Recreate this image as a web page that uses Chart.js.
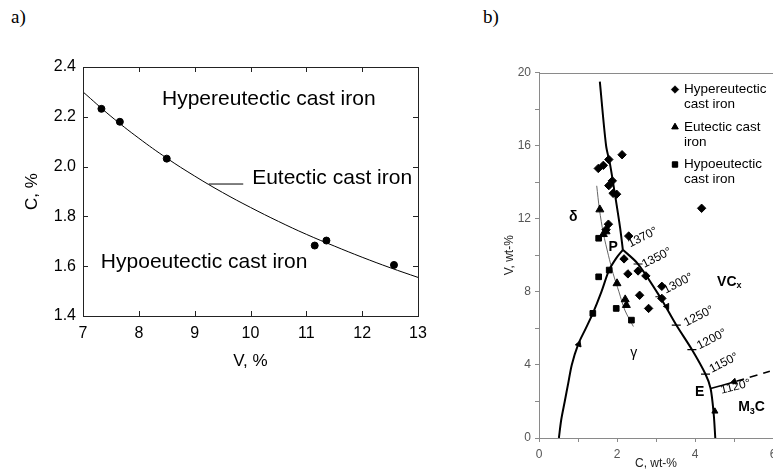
<!DOCTYPE html>
<html>
<head>
<meta charset="utf-8">
<script src="https://cdn.jsdelivr.net/npm/chart.js@4.4.1/dist/chart.umd.min.js"></script>
<style>
  body { margin: 0; background: #fff; }
  #page { position: relative; width: 773px; height: 475px; overflow: hidden; }
  #boxA { position: absolute; left: 0; top: 0; width: 440px; height: 475px; }
  #boxB { position: absolute; left: 480px; top: 0; width: 293px; height: 475px; }
  .tag { position: absolute; font: 19px "Liberation Serif", serif; color: #000; }
</style>
</head>
<body>
<div id="page">
  <div class="tag" style="left:11px;top:6px">a)</div>
  <div class="tag" style="left:483px;top:6px">b)</div>
  <div id="boxA"><canvas id="chartA"></canvas></div>
  <div id="boxB"><canvas id="chartB"></canvas></div>
</div>
<script>
// ---- panel a) : C vs V
var vCurve = [7, 7.5, 8, 8.5, 9, 9.5, 10, 10.5, 11, 11.5, 12, 12.5, 13];
var cCurve = [2.30, 2.202, 2.114, 2.034, 1.962, 1.896, 1.836, 1.780, 1.728, 1.681, 1.636, 1.594, 1.555];
var vPoints = [7.33, 7.66, 8.5, 11.15, 11.36, 12.57];
var cPoints = [2.232, 2.18, 2.032, 1.683, 1.703, 1.605];

// ---- panel b) : V vs C diagram
var hyperC = [1.52, 1.65, 1.79, 2.13, 1.79, 1.88, 1.90, 1.99, 4.17, 1.78, 1.72, 2.30, 2.18, 2.28, 2.54, 2.74, 3.15, 3.15, 2.58, 2.81];
var hyperV = [14.75, 14.92, 15.24, 15.5, 13.81, 14.07, 13.39, 13.34, 12.57, 11.7, 11.4, 11.05, 9.8, 8.98, 9.14, 8.87, 8.3, 7.64, 7.81, 7.09];
var eutC = [1.56, 1.65, 1.72, 2.0, 2.21, 2.24];
var eutV = [12.5, 11.15, 11.3, 8.46, 7.58, 7.27];
var hypoC = [1.53, 1.53, 1.80, 1.38, 1.98, 2.37];
var hypoV = [10.93, 8.82, 9.19, 6.82, 7.09, 6.45];

var liqC = [1.56, 1.72, 1.82, 1.95, 2.08, 2.15];
var liqV = [19.5, 16, 15, 13.3, 11.5, 10.3];
var leftC = [0.51, 0.57, 0.66, 0.75, 0.84, 1.0, 1.2, 1.38, 1.6, 1.8, 2.0, 2.15];
var leftV = [0, 1, 2, 3, 4, 5.1, 6.0, 6.82, 8.0, 9.2, 9.9, 10.3];
var rightC = [2.15, 2.54, 3.10, 3.52, 3.92, 4.27, 4.40, 4.48, 4.52];
var rightV = [10.3, 9.52, 7.73, 6.18, 4.84, 3.49, 2.71, 1.3, 0];
var eLineC = [4.40, 5.06];
var eLineV = [2.71, 3.1];
var eDashC = [5.06, 5.92];
var eDashV = [3.1, 3.65];
var thinC = [1.48, 1.55, 1.65, 1.78, 1.9, 2.05, 2.2, 2.42];
var thinV = [13.8, 12.5, 11.2, 10.0, 9.0, 8.0, 7.0, 6.1];
var tempC = [2.54, 3.10, 3.52, 3.92, 4.27];
var tempV = [9.52, 7.73, 6.18, 4.84, 3.49];
var tempText = ['1370°', '1350°', '1300°', '1250°', '1200°', '1150°', '1120°'];
var arrowC = [1.02, 3.28, 4.51, 5.0];
var arrowV = [5.13, 7.2, 1.46, 3.08];

function pts(xs, ys) {
  return xs.map(function (x, i) { return { x: x, y: ys[i] }; });
}

// no label overflow padding, so the plot box stays where it is set
function noPadX(h) {
  return function (s) { s.height = h; s.paddingLeft = 0; s.paddingRight = 0; };
}
function noPadY(w) {
  return function (s) { s.width = w; s.paddingTop = 0; s.paddingBottom = 0; };
}

// inward ticks and full frame for panel a)
var frameTicks = {
  id: 'frameTicks',
  afterDatasetsDraw: function (chart) {
    var a = chart.chartArea, ctx = chart.ctx, sx = chart.scales.x, sy = chart.scales.y;
    ctx.save();
    ctx.strokeStyle = '#222';
    ctx.lineWidth = 1;
    ctx.strokeRect(Math.round(a.left) + 0.5, Math.round(a.top) + 0.5, Math.round(a.right - a.left), Math.round(a.bottom - a.top));
    ctx.beginPath();
    sx.ticks.forEach(function (t) {
      var px = Math.round(sx.getPixelForValue(t.value)) + 0.5;
      ctx.moveTo(px, a.bottom); ctx.lineTo(px, a.bottom - 5);
      ctx.moveTo(px, a.top); ctx.lineTo(px, a.top + 5);
    });
    sy.ticks.forEach(function (t) {
      var py = Math.round(sy.getPixelForValue(t.value)) + 0.5;
      ctx.moveTo(a.left, py); ctx.lineTo(a.left + 5, py);
      ctx.moveTo(a.right, py); ctx.lineTo(a.right - 5, py);
    });
    ctx.stroke();
    ctx.restore();
  }
};

var notesA = [
  { v: 8.415, c: 2.269, text: 'Hypereutectic cast iron' },
  { v: 10.03, c: 1.955, text: 'Eutectic cast iron' },
  { v: 7.32, c: 1.618, text: 'Hypoeutectic cast iron' }
];

var labelsA = {
  id: 'labelsA',
  afterDatasetsDraw: function (chart) {
    var ctx = chart.ctx, sx = chart.scales.x, sy = chart.scales.y;
    ctx.save();
    ctx.fillStyle = '#000';
    ctx.font = '21px "Liberation Sans", Arial, sans-serif';
    ctx.textAlign = 'left';
    ctx.textBaseline = 'middle';
    notesA.forEach(function (n) {
      ctx.fillText(n.text, sx.getPixelForValue(n.v), sy.getPixelForValue(n.c));
    });
    // leader line to the curve
    ctx.strokeStyle = '#000';
    ctx.lineWidth = 1;
    ctx.beginPath();
    ctx.moveTo(sx.getPixelForValue(9.25), sy.getPixelForValue(1.93));
    ctx.lineTo(sx.getPixelForValue(9.87), sy.getPixelForValue(1.93));
    ctx.stroke();
    ctx.restore();
  }
};

new Chart(document.getElementById('chartA'), {
  type: 'scatter',
  data: {
    datasets: [{
      data: pts(vCurve, cCurve),
      showLine: true,
      borderColor: '#000',
      borderWidth: 1,
      pointRadius: 0,
      tension: 0.4
    }, {
      data: pts(vPoints, cPoints),
      backgroundColor: '#000',
      borderColor: '#000',
      pointRadius: 3.5
    }]
  },
  options: {
    responsive: true,
    maintainAspectRatio: false,
    animation: false,
    layout: { autoPadding: false, padding: { left: 18, top: 67, right: 22, bottom: 99 } },
    plugins: { legend: { display: false }, tooltip: { enabled: false } },
    scales: {
      x: {
        type: 'linear', min: 7, max: 13,
        afterFit: noPadX(60),
        border: { display: false },
        grid: { drawOnChartArea: false, drawTicks: false },
        ticks: { stepSize: 1, color: '#000', padding: 8, font: { family: '"Liberation Sans", Arial', size: 16 } },
        title: { display: true, text: 'V, %', color: '#000', padding: { top: 4, bottom: 4 }, font: { family: '"Liberation Sans", Arial', size: 17 } }
      },
      y: {
        min: 1.4, max: 2.4,
        afterFit: noPadY(65),
        border: { display: false },
        grid: { drawOnChartArea: false, drawTicks: false },
        ticks: { stepSize: 0.2, color: '#000', padding: 7, font: { family: '"Liberation Sans", Arial', size: 16 },
          callback: function (v) { return v.toFixed(1); } },
        title: { display: true, text: 'C, %', color: '#000', padding: { top: 4, bottom: 4 }, font: { family: '"Liberation Sans", Arial', size: 17 } }
      }
    }
  },
  plugins: [frameTicks, labelsA]
});

// ---- panel b) decorations
var notesB = [
  { c: 0.88, v: 12.1, parts: [['δ', 0]], bold: true },
  { c: 1.90, v: 10.47, parts: [['P', 0]], bold: true },
  { c: 2.43, v: 4.66, parts: [['γ', 0]], bold: false },
  { c: 4.88, v: 8.55, parts: [['VC', 0], ['x', 1]], bold: true },
  { c: 4.12, v: 2.52, parts: [['E', 0]], bold: true },
  { c: 5.45, v: 1.68, parts: [['M', 0], ['3', 1], ['C', 0]], bold: true }
];
var tempPos = [
  { c: 2.66, v: 10.97, r: -27 },
  { c: 3.02, v: 9.85, r: -27 },
  { c: 3.57, v: 8.45, r: -27 },
  { c: 4.10, v: 6.66, r: -27 },
  { c: 4.43, v: 5.40, r: -27 },
  { c: 4.74, v: 4.10, r: -27 },
  { c: 5.04, v: 2.80, r: -14 }
];
var legendRows = [
  ['Hypereutectic', 'cast iron'],
  ['Eutectic cast', 'iron'],
  ['Hypoeutectic', 'cast iron']
];

var decorB = {
  id: 'decorB',
  afterDatasetsDraw: function (chart) {
    var ctx = chart.ctx, sx = chart.scales.x, sy = chart.scales.y, a = chart.chartArea;
    ctx.save();
    // top frame line
    ctx.strokeStyle = '#8a8a8a';
    ctx.lineWidth = 1;
    ctx.beginPath();
    ctx.moveTo(a.left, Math.round(a.top) + 0.5);
    ctx.lineTo(a.right, Math.round(a.top) + 0.5);
    ctx.stroke();

    ctx.fillStyle = '#000';
    ctx.textBaseline = 'middle';
    ctx.textAlign = 'left';
    notesB.forEach(function (n) {
      var x = sx.getPixelForValue(n.c), y = sy.getPixelForValue(n.v);
      var w = 0;
      var weight = n.bold ? 'bold ' : '';
      n.parts.forEach(function (p) {
        ctx.font = weight + (p[1] ? 9 : 14) + 'px "Liberation Sans", Arial';
        w += ctx.measureText(p[0]).width;
      });
      x -= w / 2;
      n.parts.forEach(function (p) {
        ctx.font = weight + (p[1] ? 9 : 14) + 'px "Liberation Sans", Arial';
        ctx.fillText(p[0], x, y + (p[1] ? 4 : 0));
        x += ctx.measureText(p[0]).width;
      });
    });

    ctx.font = '12px "Liberation Sans", Arial';
    ctx.textAlign = 'center';
    tempPos.forEach(function (t, i) {
      ctx.save();
      ctx.translate(sx.getPixelForValue(t.c), sy.getPixelForValue(t.v));
      ctx.rotate(t.r * Math.PI / 180);
      ctx.fillText(tempText[i], 0, 0);
      ctx.restore();
    });

    // legend
    var shapes = chart.data.datasets.slice(0, 3);
    ctx.font = '13.5px "Liberation Sans", Arial';
    ctx.textAlign = 'left';
    var lx = 675 - 480, ly = 89.5;
    legendRows.forEach(function (row, i) {
      var y = ly + i * 37.5;
      Chart.helpers.drawPoint(ctx, { pointStyle: shapes[i].pointStyle, radius: 3.8, borderWidth: 1 }, lx, y);
      ctx.fillStyle = '#000';
      ctx.strokeStyle = '#000';
      ctx.fill();
      ctx.fillText(row[0], lx + 9, y);
      ctx.fillText(row[1], lx + 9, y + 15);
    });
    ctx.restore();
  }
};

function lineSet(xs, ys, w, color, dash) {
  return {
    data: pts(xs, ys), showLine: true, borderColor: color, borderWidth: w,
    borderDash: dash || [], pointRadius: 0, tension: 0.3, fill: false
  };
}

new Chart(document.getElementById('chartB'), {
  type: 'scatter',
  data: {
    datasets: [
      { data: pts(hyperC, hyperV), pointStyle: 'rectRot', pointRadius: 4.2, backgroundColor: '#000', borderColor: '#000' },
      { data: pts(eutC, eutV), pointStyle: 'triangle', pointRadius: 4.6, backgroundColor: '#000', borderColor: '#000' },
      { data: pts(hypoC, hypoV), pointStyle: 'rect', pointRadius: 4, backgroundColor: '#000', borderColor: '#000' },
      lineSet(liqC, liqV, 2, '#000'),
      lineSet(leftC, leftV, 2, '#000'),
      lineSet(rightC, rightV, 2, '#000'),
      lineSet(eLineC, eLineV, 1.6, '#000'),
      lineSet(eDashC, eDashV, 1.6, '#000', [8, 6]),
      lineSet(thinC, thinV, 0.9, '#555'),
      { data: pts(tempC, tempV), pointStyle: 'line', pointRadius: 4.5, borderWidth: 1.2, borderColor: '#000', backgroundColor: '#000' },
      { data: pts(arrowC, arrowV), pointStyle: 'triangle', pointRadius: 3.5, pointRotation: [20, 150, 0, -106],
        backgroundColor: '#000', borderColor: '#000' }
    ]
  },
  options: {
    responsive: true,
    maintainAspectRatio: false,
    animation: false,
    layout: { autoPadding: false, padding: { left: 18, top: 72.5, right: 0, bottom: 3 } },
    plugins: { legend: { display: false }, tooltip: { enabled: false } },
    scales: {
      x: {
        type: 'linear', min: 0, max: 6,
        afterFit: noPadX(34),
        border: { color: '#8a8a8a' },
        grid: { drawOnChartArea: false, color: '#8a8a8a', tickLength: 4 },
        ticks: { stepSize: 1, color: '#555', padding: 5, font: { family: '"Liberation Sans", Arial', size: 12 },
          callback: function (v) { return v % 2 === 0 ? v : ''; } },
        title: { display: true, text: 'C, wt-%', color: '#222', padding: { top: 0, bottom: 1 }, font: { family: '"Liberation Sans", Arial', size: 12 } }
      },
      y: {
        min: 0, max: 20,
        afterFit: noPadY(41),
        border: { color: '#8a8a8a' },
        grid: { drawOnChartArea: false, color: '#8a8a8a', tickLength: 4 },
        ticks: { stepSize: 2, color: '#555', padding: 4, font: { family: '"Liberation Sans", Arial', size: 12 },
          callback: function (v) { return v % 4 === 0 ? v : ''; } },
        title: { display: true, text: 'V, wt-%', color: '#222', padding: { top: 4, bottom: 0 }, font: { family: '"Liberation Sans", Arial', size: 12 } }
      }
    }
  },
  plugins: [decorB]
});
</script>
</body>
</html>
